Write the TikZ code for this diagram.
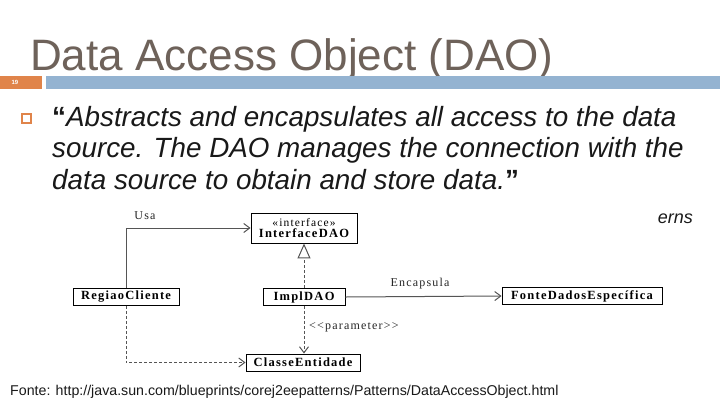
\documentclass[tikz,border=0pt]{standalone}
\usepackage{fontspec}
\setmainfont{Liberation Sans}
\newfontfamily\umlfont[LetterSpace=10]{Liberation Serif}
\usetikzlibrary{arrows.meta}
\definecolor{titlecol}{RGB}{110,98,90}
\definecolor{barblue}{RGB}{148,179,209}
\definecolor{barorange}{RGB}{224,132,74}
\definecolor{linecol}{RGB}{85,85,85}
\tikzset{
  umlbox/.style={draw=black, line width=0.9pt, fill=white, inner sep=0pt, minimum height=17pt, font=\umlfont\fontsize{12.5}{13}\selectfont\bfseries},
  umllabel/.style={inner sep=0pt, font=\umlfont\fontsize{12}{13}\selectfont, text=black!85},
  conn/.style={draw=linecol, line width=1pt},
  dashline/.style={dash pattern=on 3pt off 2pt},
  barb/.style={-{Straight Barb[length=6pt,width=9pt]}},
  realize/.style={-{Triangle[open,length=15pt,width=13pt,line width=1pt]}},
  quoteline/.style={anchor=base west, inner sep=0pt, text=black!90, font=\fontsize{27.8}{30}\selectfont\itshape}
}
\begin{document}
\begin{tikzpicture}[x=1pt,y=-1pt]
\useasboundingbox[fill=white] (0,0) rectangle (720,405);
% header
\node[anchor=base west, inner sep=0pt, text=titlecol, font=\fontsize{44}{44}\selectfont] (title) at (30,70) {Data Access Object (DAO)};
\fill[barorange] (0,75.5) rectangle (42,88.5);
\node[inner sep=0pt, text=white, font=\fontsize{6}{6}\selectfont\bfseries] (num) at (15,82) {19};
\fill[barblue] (46,75.5) rectangle (720,88.5);
% bullet
\draw[barorange, line width=1.1pt] (22,114) rectangle (31,123);
\node[quoteline] (q1) at (52,126) {{\upshape\bfseries “}Abstracts and encapsulates all access to the data};
\node[quoteline] (q2) at (52,157.5) {source. The DAO manages the connection with the};
\node[quoteline] (q3) at (52,189) {data source to obtain and store data.{\upshape\bfseries ”}};
\node[anchor=base east, inner sep=0pt, text=black!90, font=\fontsize{18}{18}\selectfont\itshape] (src) at (693,223) {erns};
% UML diagram
\node[umlbox, minimum width=106pt, minimum height=30pt, align=center] (idao) at (304,228)
{{\mdseries\fontsize{11.5}{12}\selectfont «interface»}\\[-1.5pt]InterfaceDAO};
\node[umlbox, minimum width=106pt] (rc) at (126,297) {RegiaoCliente};
\node[umlbox, minimum width=82pt] (impl) at (304,297) {ImplDAO};
\node[umlbox, minimum width=160pt] (fonte) at (582,296) {FonteDadosEspecífica};
\node[umlbox, minimum width=114pt] (ce) at (303,362.5) {ClasseEntidade};
\draw[conn, barb] (rc.north) |- (idao.west);
\node[umllabel] (usa) at (145,216) {Usa};
\draw[conn, dashline, realize] (impl.north) -- (idao.south);
\draw[conn, barb] (impl.east) -- (fonte.west);
\node[umllabel] (enc) at (420,284) {Encapsula};
\draw[conn, dashline, barb] (impl.south) -- (impl.south |- ce.north);
\node[umllabel, anchor=west] (par) at (309,327) {<<parameter>>};
\draw[conn, dashline, barb] (rc.south) |- (ce.west);
% footer
\node[anchor=base west, inner sep=0pt, text=black!90, font=\fontsize{14.2}{15}\selectfont] (foot) at (10,395)
{Fonte: http://java.sun.com/blueprints/corej2eepatterns/Patterns/DataAccessObject.html};
\end{tikzpicture}
\end{document}
